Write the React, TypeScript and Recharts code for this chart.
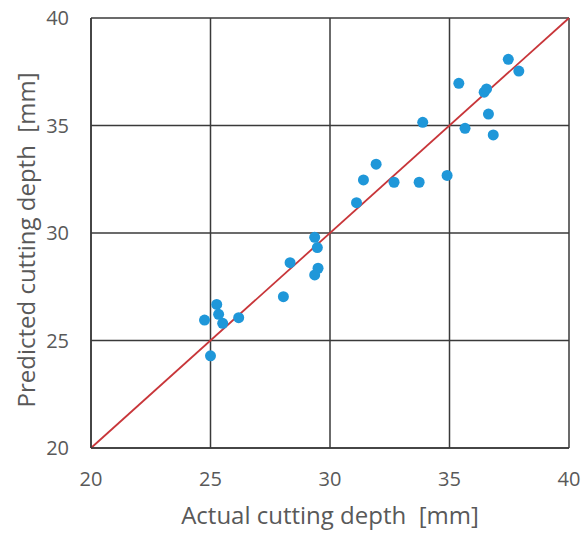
import {
  CartesianGrid,
  ReferenceLine,
  Scatter,
  ScatterChart,
  XAxis,
  YAxis,
} from "recharts";

// 実測値 vs 予測値（切削深さ）。y = x の対角線つき散布図。

const ACTUAL = [
  24.75, 25.26, 25.34, 25.51, 26.18, 25.0, 28.05, 28.33, 29.36, 29.47, 29.5, 29.36,
  31.11, 31.4, 31.93, 32.68, 33.73, 34.9, 33.88, 35.39, 35.65, 36.45, 36.55, 36.63,
  36.83, 37.46, 37.9,
];
const PREDICTED = [
  25.95, 26.68, 26.22, 25.8, 26.06, 24.29, 27.04, 28.62, 29.8, 29.32, 28.36, 28.05,
  31.41, 32.47, 33.2, 32.36, 32.36, 32.68, 35.15, 36.96, 34.87, 36.55, 36.7, 35.53,
  34.56, 38.08, 37.53,
];
const TICKS = [20, 25, 30, 35, 40];

const data = ACTUAL.map((x, i) => ({ x, y: PREDICTED[i] }));

const FONT = "'Open Sans', 'Noto Sans', sans-serif";
const TEXT = "#595959";

const XTitle = () => (
  <text x={330} y={514} textAnchor="middle" dominantBaseline="central" fontSize={24} fill={TEXT} fontFamily={FONT}>
    {"Actual cutting depth\u00a0\u00a0[mm]"}
  </text>
);

const YTitle = () => (
  <text
    x={25}
    y={240}
    transform="rotate(-90 25 240)"
    textAnchor="middle"
    dominantBaseline="central"
    fontSize={24}
    fill={TEXT}
    fontFamily={FONT}
  >
    {"Predicted cutting depth\u00a0\u00a0[mm]"}
  </text>
);

export default function App() {
  return (
    <div style={{ position: "absolute", left: 0, top: 0, background: "#fff" }}>
      <ScatterChart width={587} height={533} margin={{ top: 18, right: 18, left: 0, bottom: 0 }}>
        <CartesianGrid stroke="#3a3a3a" strokeWidth={1.5} horizontalValues={TICKS} verticalValues={TICKS} />
        <XAxis
          type="number"
          dataKey="x"
          domain={[20, 40]}
          ticks={TICKS}
          tick={{ fontSize: 20, fill: TEXT, fontFamily: FONT }}
          tickSize={0}
          tickMargin={24}
          axisLine={{ stroke: "#3a3a3a", strokeWidth: 1.5 }}
          height={85}
          label={{ content: () => <XTitle /> }}
        />
        <YAxis
          type="number"
          dataKey="y"
          domain={[20, 40]}
          ticks={TICKS}
          tick={{ fontSize: 20, fill: TEXT, fontFamily: FONT }}
          tickSize={0}
          tickMargin={22}
          axisLine={{ stroke: "#3a3a3a", strokeWidth: 1.5 }}
          width={91}
          label={{ content: () => <YTitle /> }}
        />
        <ReferenceLine
          segment={[
            { x: 20, y: 20 },
            { x: 40, y: 40 },
          ]}
          stroke="#c8363a"
          strokeWidth={1.8}
        />
        <Scatter
          data={data}
          fill="#1f97d9"
          isAnimationActive={false}
          shape={(p: any) => <circle cx={p.cx} cy={p.cy} r={5.5} fill="#1f97d9" />}
        />
      </ScatterChart>
    </div>
  );
}
